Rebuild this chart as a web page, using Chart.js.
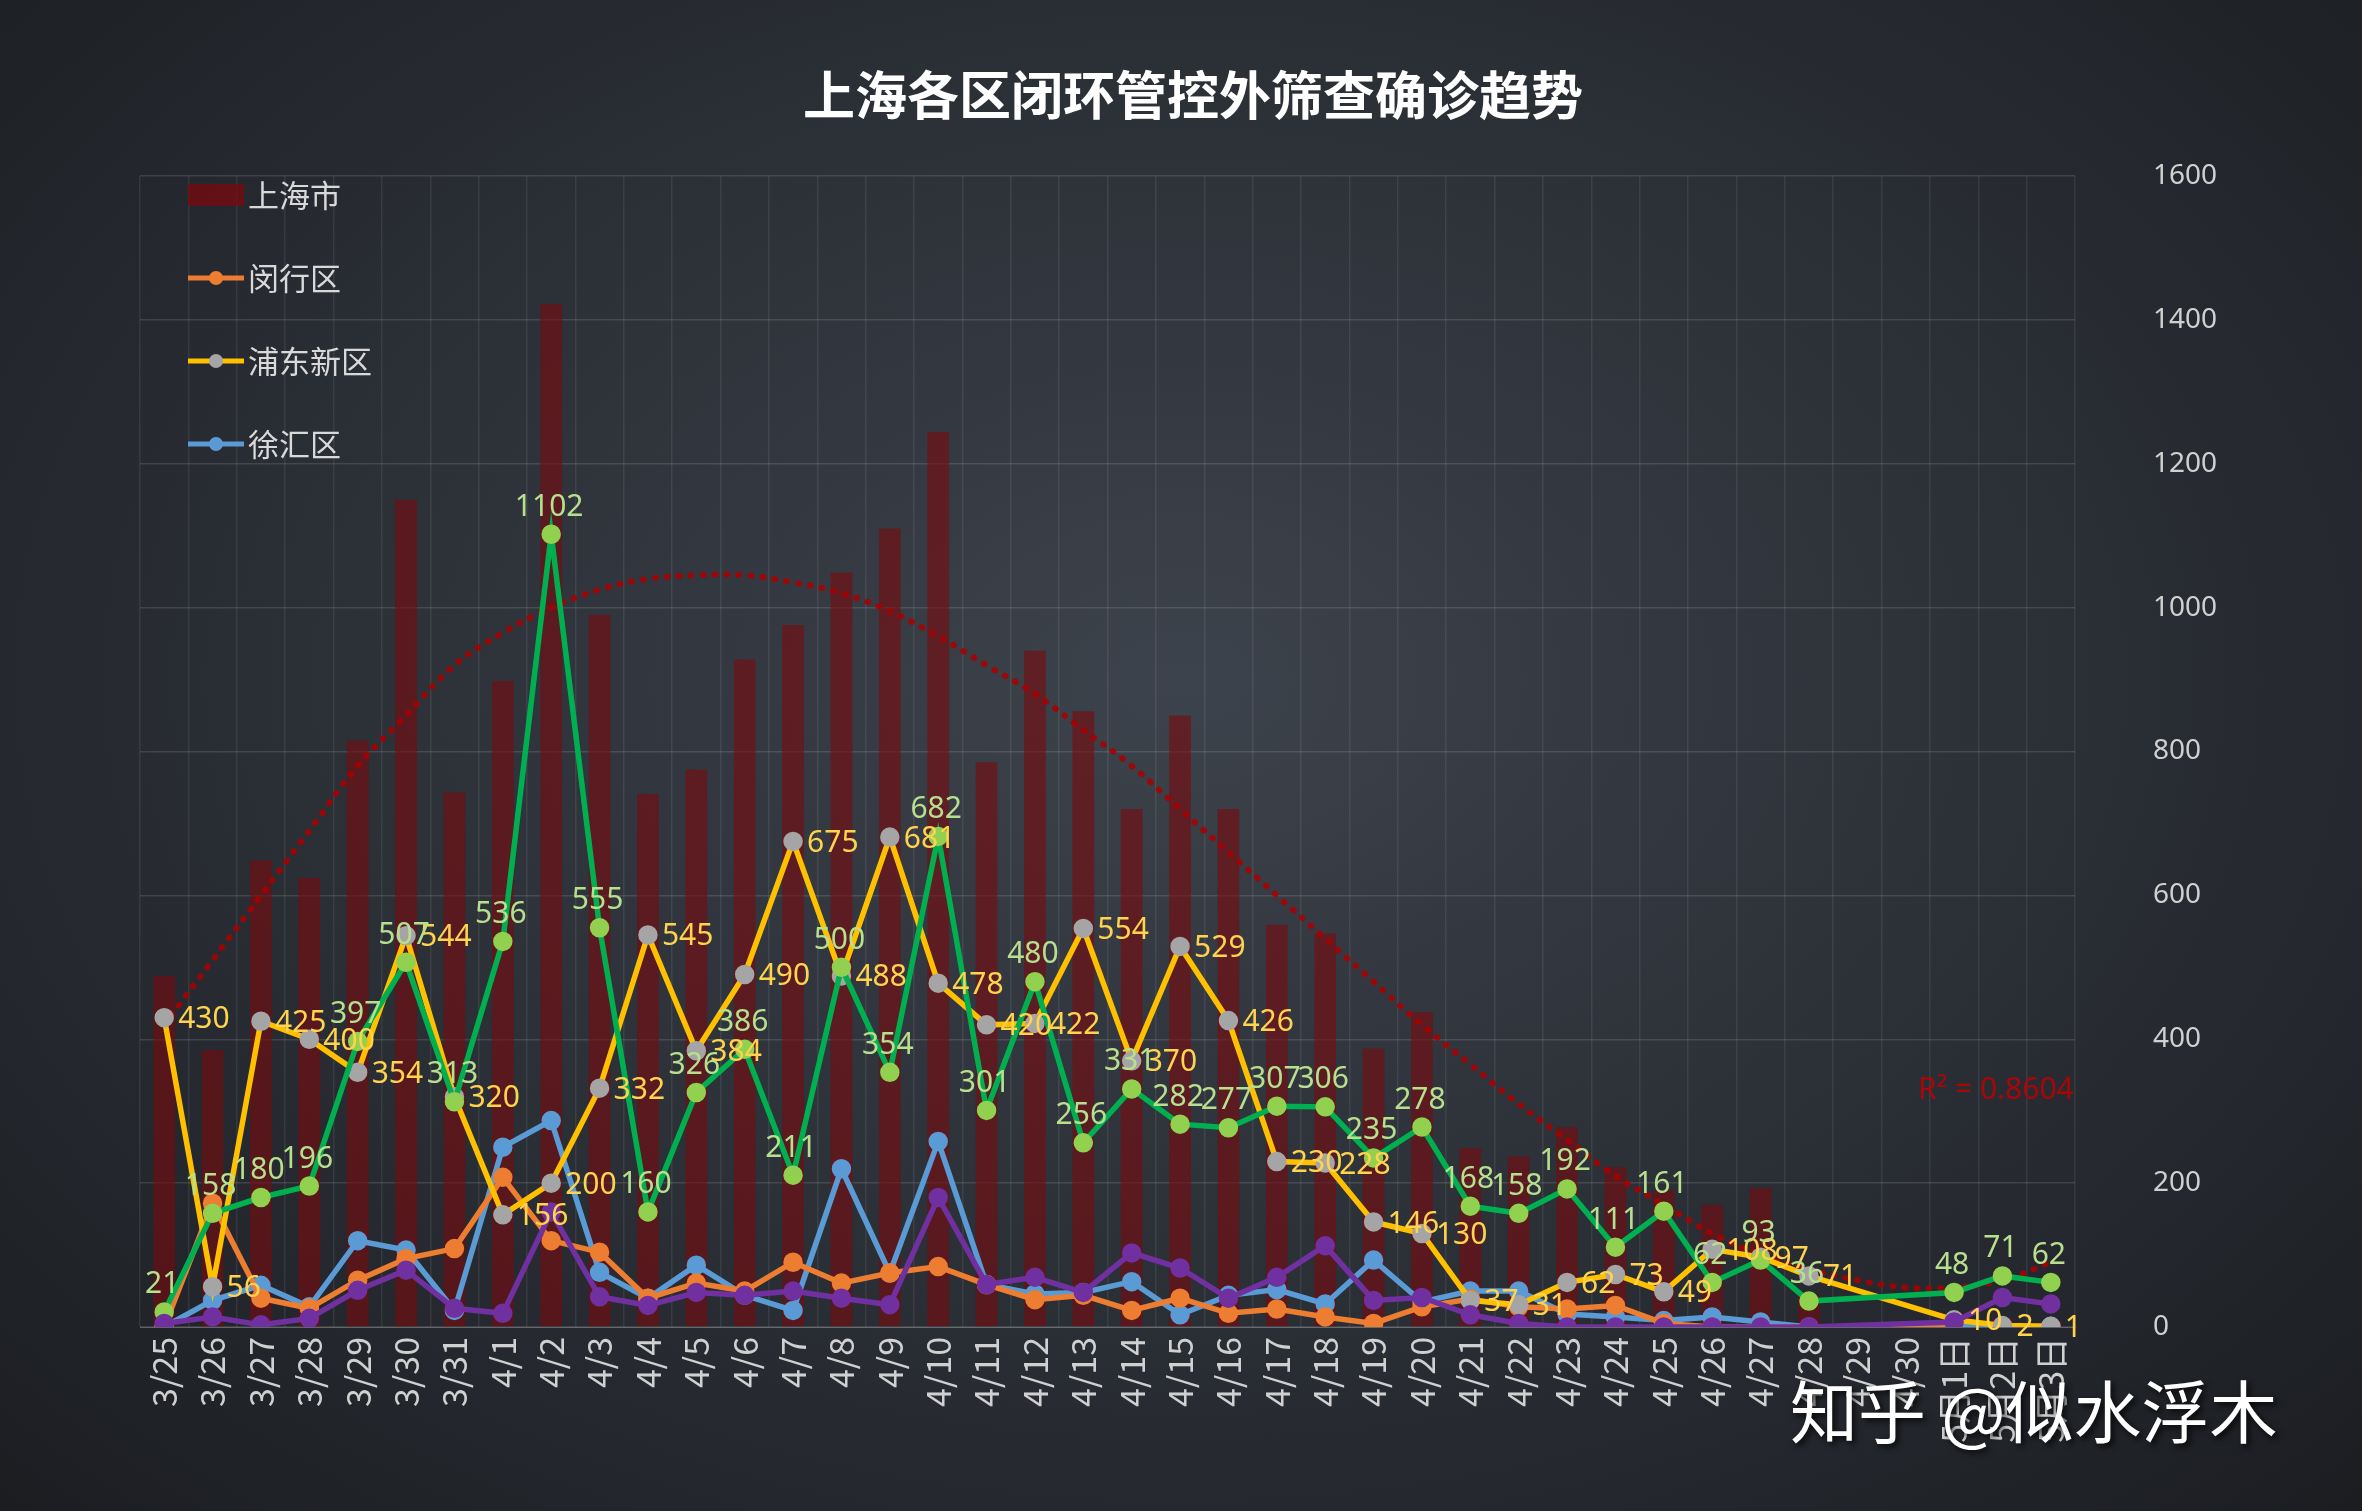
<!DOCTYPE html>
<html>
<head>
<meta charset="utf-8">
<script src="https://cdn.jsdelivr.net/npm/chart.js@4"></script>
<style>
  html, body { margin: 0; padding: 0; }
  body { width: 2362px; height: 1511px; background: radial-gradient(ellipse at 50% 45%, #3d434c 0%, #2a2e35 55%, #1b1d21 100%); }
  #wrap { position: relative; width: 2362px; height: 1511px; }
</style>
</head>
<body>
<div id="wrap"><canvas id="c" width="2362" height="1511"></canvas></div>
<script>
// categories
const dates = ['3/25','3/26','3/27','3/28','3/29','3/30','3/31',
  '4/1','4/2','4/3','4/4','4/5','4/6','4/7','4/8','4/9','4/10','4/11','4/12','4/13','4/14','4/15',
  '4/16','4/17','4/18','4/19','4/20','4/21','4/22','4/23','4/24','4/25','4/26','4/27','4/28','4/29','4/30',
  '5月1日','5月2日','5月3日'];

// 上海市 (bars)
const shanghai = [488,385,649,624,815,1150,743,898,1422,990,741,775,928,976,1049,1110,1244,785,940,856,720,850,
  720,559,547,387,438,249,237,278,222,190,170,193,44,null,null,19,12,8];
// 闵行区
const minhang = [0,172,40,26,65,95,109,208,120,104,40,61,50,90,61,75,84,59,38,44,23,40,
  19,25,14,5,28,39,28,25,30,5,0,0,null,null,null,0,null,null];
// 浦东新区
const pudong = [430,56,425,400,354,544,320,156,200,332,545,384,490,675,488,681,478,420,422,554,370,529,
  426,230,228,146,130,37,31,62,73,49,108,97,71,null,null,10,2,1];
// 徐汇区
const xuhui = [0,37,58,28,120,107,23,250,287,76,40,86,44,23,220,75,258,59,46,48,63,17,
  44,52,32,93,35,50,50,18,14,9,14,7,0,null,null,2,0,1];
// green series (labelled)
const greenSeries = [21,158,180,196,397,507,313,536,1102,555,160,326,386,211,500,354,682,301,480,256,331,282,
  277,307,306,235,278,168,158,192,111,161,62,93,36,null,null,48,71,62];
// purple series
const purpleSeries = [5,14,3,12,51,79,26,19,160,42,30,48,44,50,40,31,180,59,69,48,103,82,
  40,69,113,37,41,17,5,0,0,0,0,0,0,null,null,7,41,32];
// trend line
const trend = [420,510,600,690,780,850,920,965,1000,1025,1040,1045,1045,1035,1020,995,960,920,880,830,780,720,
  660,600,540,480,420,365,310,260,210,170,130,100,80,65,55,55,65,90];

const yTicks = [0,200,400,600,800,1000,1200,1400,1600];

const labelPlugin = {
  id: 'labels',
  afterDatasetsDraw(chart) {
    const ctx = chart.ctx;
    ctx.save();
    ctx.font = '30px "Noto Sans", sans-serif';
    // yellow labels to the right
    const py = chart.getDatasetMeta(3);
    ctx.fillStyle = '#ffd34d';
    ctx.textAlign = 'left'; ctx.textBaseline = 'middle';
    pudong.forEach((v, i) => {
      if (v == null) return;
      const p = py.data[i];
      ctx.fillText(String(v), p.x + 14, p.y + 2);
    });
    // green labels above
    const pg = chart.getDatasetMeta(5);
    ctx.fillStyle = '#b8df8e';
    ctx.textAlign = 'center'; ctx.textBaseline = 'bottom';
    greenSeries.forEach((v, i) => {
      if (v == null) return;
      const p = pg.data[i];
      ctx.fillText(String(v), p.x - 2, p.y - 12);
    });
    // R²
    ctx.fillStyle = 'rgba(190,0,0,0.85)';
    ctx.textAlign = 'left'; ctx.textBaseline = 'middle';
    ctx.fillText('R² = 0.8604', 1918, 1090);

    // legend
    const items = [
      { t: '上海市', type: 'bar' },
      { t: '闵行区', c: '#ed7d31', pc: '#ed7d31' },
      { t: '浦东新区', c: '#ffc000', pc: '#a5a5a5' },
      { t: '徐汇区', c: '#5b9bd5', pc: '#5b9bd5' }
    ];
    ctx.font = '31px "Noto Sans CJK SC", sans-serif';
    items.forEach((it, k) => {
      const y = 195 + k * 83;
      if (it.type === 'bar') {
        ctx.fillStyle = 'rgba(120,10,14,0.75)';
        ctx.fillRect(188, y - 11, 56, 22);
      } else {
        ctx.strokeStyle = it.c; ctx.lineWidth = 5;
        ctx.beginPath(); ctx.moveTo(188, y); ctx.lineTo(244, y); ctx.stroke();
        ctx.fillStyle = it.pc;
        ctx.beginPath(); ctx.arc(216, y, 7, 0, Math.PI * 2); ctx.fill();
      }
      ctx.fillStyle = '#d9d9d9';
      ctx.fillText(it.t, 248, y);
    });

    // title
    ctx.fillStyle = '#ffffff';
    ctx.font = 'bold 52px "Noto Sans CJK SC", sans-serif';
    ctx.textAlign = 'center';
    ctx.fillText('上海各区闭环管控外筛查确诊趋势', 1193, 95);

    // watermark
    ctx.font = '68px "Noto Sans CJK SC", sans-serif';
    ctx.textAlign = 'left';
    ctx.shadowColor = 'rgba(0,0,0,0.8)'; ctx.shadowBlur = 6; ctx.shadowOffsetX = 3; ctx.shadowOffsetY = 3;
    ctx.fillStyle = '#ffffff';
    ctx.fillText('知乎 @似水浮木', 1790, 1412);
    ctx.restore();
  }
};

const lineDs = (label, data, color, pointColor, order) => ({
  type: 'line', label, data, borderColor: color, backgroundColor: pointColor,
  pointBackgroundColor: pointColor, pointBorderColor: pointColor,
  borderWidth: 5.5, pointRadius: 7, tension: 0, spanGaps: true, order
});

new Chart(document.getElementById('c'), {
  data: {
    labels: dates,
    datasets: [
      { type: 'bar', label: '上海市', data: shanghai, backgroundColor: 'rgba(120,10,14,0.6)',
        barPercentage: 0.45, categoryPercentage: 1, order: 10 },
      { type: 'line', label: 'trend', data: trend, borderColor: 'rgba(170,0,0,0.85)', borderWidth: 6,
        borderDash: [1, 11], borderCapStyle: 'round', pointRadius: 0, tension: 0.4, order: 9 },
      lineDs('闵行区', minhang, '#ed7d31', '#ed7d31', 4),
      lineDs('浦东新区', pudong, '#ffc000', '#a5a5a5', 3),
      lineDs('徐汇区', xuhui, '#5b9bd5', '#5b9bd5', 5),
      lineDs('green', greenSeries, '#00b050', '#92d050', 2),
      lineDs('purple', purpleSeries, '#7030a0', '#7030a0', 1)
    ]
  },
  options: {
    responsive: false,
    animation: false,
    layout: { padding: { top: 176, left: 140, right: 97, bottom: 0 } },
    plugins: { legend: { display: false }, tooltip: { enabled: false } },
    scales: {
      x: {
        offset: true,
        grid: { color: 'rgba(255,255,255,0.08)', lineWidth: 1.5, drawTicks: false, offset: true },
        border: { color: 'rgba(255,255,255,0.25)' },
        ticks: { color: '#d0d0d0', font: { size: 34, family: '"Noto Sans CJK SC", sans-serif' },
          minRotation: 90, maxRotation: 90, padding: 10, autoSkip: false },
        afterFit(s) { s.height = 184; }
      },
      y: {
        position: 'right', min: 0, max: 1600,
        afterBuildTicks(s) { s.ticks = yTicks.map(v => ({ value: v })); },
        grid: { color: 'rgba(255,255,255,0.12)', lineWidth: 1.5, drawTicks: false },
        border: { display: false },
        ticks: { color: '#d0d0d0', font: { size: 28, family: '"Noto Sans", sans-serif' }, padding: 78,
          callback: v => String(v) },
        afterFit(s) { s.width = 190; }
      }
    }
  },
  plugins: [labelPlugin]
});
</script>
</body>
</html>
